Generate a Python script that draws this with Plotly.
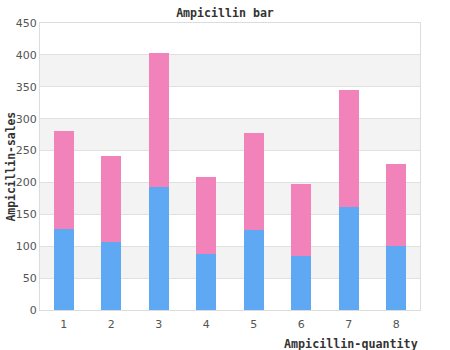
import plotly.graph_objects as go

categories = ["1", "2", "3", "4", "5", "6", "7", "8"]
blue_values = [127, 107, 193, 88, 126, 84, 162, 100]
pink_values = [154, 135, 210, 121, 152, 114, 183, 129]
band_ranges = [(50, 100), (150, 200), (250, 300), (350, 400)]

fig = go.Figure()
fig.add_trace(go.Bar(x=categories, y=blue_values, marker_color="#5fa8f4",
                     marker_line_width=0, width=0.42))
fig.add_trace(go.Bar(x=categories, y=pink_values, marker_color="#f283ba",
                     marker_line_width=0, width=0.42))

for lo, hi in band_ranges:
    fig.add_shape(type="rect", xref="paper", yref="y", x0=0, x1=1, y0=lo, y1=hi,
                  fillcolor="#f3f3f3", line_width=0, layer="below")

mono = "DejaVu Sans Mono"
fig.update_layout(
    barmode="stack",
    width=450, height=350,
    margin=dict(l=40, r=30, t=23, b=40),
    paper_bgcolor="white", plot_bgcolor="white",
    showlegend=False,
    title=dict(text="<b>Ampicillin bar</b>", x=0.5, xanchor="center", y=1 - 13/350,
               yanchor="middle", font=dict(family=mono, size=11.6, color="#333")),
    xaxis=dict(type="category", range=[-0.5, 7.5], showgrid=False, ticks="",
               showline=True, linecolor="#dcdcdc", mirror=True, ticklabelstandoff=4,
               tickfont=dict(family="DejaVu Sans", size=11, color="#555")),
    yaxis=dict(range=[0, 450], dtick=50, showgrid=True, gridcolor="#e0e0e0",
               showline=True, linecolor="#dcdcdc", mirror=True, zeroline=False,
               ticks="", tickfont=dict(family="DejaVu Sans", size=11, color="#555")),
    annotations=[
        dict(text="<b>Ampicillin-sales</b>", xref="paper", yref="paper", x=0, y=0.5,
             xshift=-30, xanchor="center", textangle=-90, showarrow=False,
             font=dict(family=mono, size=11.4, color="#333")),
        dict(text="<b>Ampicillin-quantity</b>", xref="paper", yref="paper", x=1, y=0,
             xanchor="right", yanchor="middle", yshift=-34, showarrow=False,
             font=dict(family=mono, size=11.7, color="#333")),
    ],
)

fig.write_html("out.html")
